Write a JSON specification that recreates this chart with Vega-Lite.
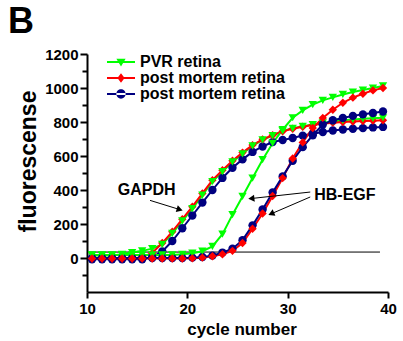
{
"$schema": "https://vega.github.io/schema/vega-lite/v6.json",
"width": 301, "height": 238,
"autosize": {"type": "none"},
"padding": {"left": 87, "top": 54, "right": 15, "bottom": 49},
"background": "white",
"title": {"text": "B", "anchor": "start", "frame": "group", "dx": -79, "dy": 22, "offset": 0, "baseline": "alphabetic", "font": "Liberation Sans", "fontSize": 36, "fontWeight": "bold", "color": "black"},
"config": {"view": {"stroke": null},
  "axis": {"domainColor": "black", "domainWidth": 2, "tickColor": "black", "tickWidth": 2, "grid": false, "labelFont": "Liberation Sans", "labelFontWeight": "bold", "labelFontSize": 15, "labelColor": "black", "labelOverlap": false, "titleFont": "Liberation Sans", "titleFontWeight": "bold", "titleColor": "black"}},
"resolve": {"axis": {"y": "independent"}},
"datasets": {
"threshold": [{"fromCycle": 10, "toCycle": 39.2, "level": 35}],
"labels": [{"text": "GAPDH", "cycle": 15.95, "fluorescence": 402}, {"text": "HB-EGF", "cycle": 35.7, "fluorescence": 372}],
"arrows": [{"arrow": "GAPDH", "fromCycle": 16.28, "fromValue": 339, "toCycle": 19.24, "toValue": 285},
  {"arrow": "HB1", "fromCycle": 32.25, "fromValue": 388, "toCycle": 26.38, "toValue": 350},
  {"arrow": "HB2", "fromCycle": 32.25, "fromValue": 359, "toCycle": 28.36, "toValue": 260}],
"curves": [
{"cycle":10.5,"fluorescence":15,"sample":"PVR","gene":"GAPDH"},{"cycle":11.5,"fluorescence":15,"sample":"PVR","gene":"GAPDH"},{"cycle":12.5,"fluorescence":15,"sample":"PVR","gene":"GAPDH"},{"cycle":13.5,"fluorescence":22,"sample":"PVR","gene":"GAPDH"},{"cycle":14.5,"fluorescence":32,"sample":"PVR","gene":"GAPDH"},{"cycle":15.5,"fluorescence":42,"sample":"PVR","gene":"GAPDH"},{"cycle":16.5,"fluorescence":55,"sample":"PVR","gene":"GAPDH"},{"cycle":17.5,"fluorescence":80,"sample":"PVR","gene":"GAPDH"},{"cycle":18.5,"fluorescence":145,"sample":"PVR","gene":"GAPDH"},{"cycle":19.5,"fluorescence":218,"sample":"PVR","gene":"GAPDH"},{"cycle":20.5,"fluorescence":290,"sample":"PVR","gene":"GAPDH"},{"cycle":21.5,"fluorescence":370,"sample":"PVR","gene":"GAPDH"},{"cycle":22.5,"fluorescence":450,"sample":"PVR","gene":"GAPDH"},{"cycle":23.5,"fluorescence":508,"sample":"PVR","gene":"GAPDH"},{"cycle":24.5,"fluorescence":565,"sample":"PVR","gene":"GAPDH"},{"cycle":25.5,"fluorescence":613,"sample":"PVR","gene":"GAPDH"},{"cycle":26.5,"fluorescence":660,"sample":"PVR","gene":"GAPDH"},{"cycle":27.5,"fluorescence":695,"sample":"PVR","gene":"GAPDH"},{"cycle":28.5,"fluorescence":720,"sample":"PVR","gene":"GAPDH"},{"cycle":29.5,"fluorescence":748,"sample":"PVR","gene":"GAPDH"},{"cycle":30.5,"fluorescence":763,"sample":"PVR","gene":"GAPDH"},{"cycle":31.5,"fluorescence":775,"sample":"PVR","gene":"GAPDH"},{"cycle":32.5,"fluorescence":785,"sample":"PVR","gene":"GAPDH"},{"cycle":33.5,"fluorescence":795,"sample":"PVR","gene":"GAPDH"},{"cycle":34.5,"fluorescence":802,"sample":"PVR","gene":"GAPDH"},{"cycle":35.5,"fluorescence":810,"sample":"PVR","gene":"GAPDH"},{"cycle":36.5,"fluorescence":815,"sample":"PVR","gene":"GAPDH"},{"cycle":37.5,"fluorescence":819,"sample":"PVR","gene":"GAPDH"},{"cycle":38.5,"fluorescence":822,"sample":"PVR","gene":"GAPDH"},{"cycle":39.5,"fluorescence":825,"sample":"PVR","gene":"GAPDH"},
{"cycle":10.5,"fluorescence":-3,"sample":"PM1","gene":"GAPDH"},{"cycle":11.5,"fluorescence":-3,"sample":"PM1","gene":"GAPDH"},{"cycle":12.5,"fluorescence":-3,"sample":"PM1","gene":"GAPDH"},{"cycle":13.5,"fluorescence":-3,"sample":"PM1","gene":"GAPDH"},{"cycle":14.5,"fluorescence":-3,"sample":"PM1","gene":"GAPDH"},{"cycle":15.5,"fluorescence":5,"sample":"PM1","gene":"GAPDH"},{"cycle":16.5,"fluorescence":30,"sample":"PM1","gene":"GAPDH"},{"cycle":17.5,"fluorescence":88,"sample":"PM1","gene":"GAPDH"},{"cycle":18.5,"fluorescence":155,"sample":"PM1","gene":"GAPDH"},{"cycle":19.5,"fluorescence":228,"sample":"PM1","gene":"GAPDH"},{"cycle":20.5,"fluorescence":302,"sample":"PM1","gene":"GAPDH"},{"cycle":21.5,"fluorescence":380,"sample":"PM1","gene":"GAPDH"},{"cycle":22.5,"fluorescence":458,"sample":"PM1","gene":"GAPDH"},{"cycle":23.5,"fluorescence":516,"sample":"PM1","gene":"GAPDH"},{"cycle":24.5,"fluorescence":572,"sample":"PM1","gene":"GAPDH"},{"cycle":25.5,"fluorescence":620,"sample":"PM1","gene":"GAPDH"},{"cycle":26.5,"fluorescence":664,"sample":"PM1","gene":"GAPDH"},{"cycle":27.5,"fluorescence":698,"sample":"PM1","gene":"GAPDH"},{"cycle":28.5,"fluorescence":722,"sample":"PM1","gene":"GAPDH"},{"cycle":29.5,"fluorescence":745,"sample":"PM1","gene":"GAPDH"},{"cycle":30.5,"fluorescence":760,"sample":"PM1","gene":"GAPDH"},{"cycle":31.5,"fluorescence":772,"sample":"PM1","gene":"GAPDH"},{"cycle":32.5,"fluorescence":782,"sample":"PM1","gene":"GAPDH"},{"cycle":33.5,"fluorescence":790,"sample":"PM1","gene":"GAPDH"},{"cycle":34.5,"fluorescence":796,"sample":"PM1","gene":"GAPDH"},{"cycle":35.5,"fluorescence":800,"sample":"PM1","gene":"GAPDH"},{"cycle":36.5,"fluorescence":803,"sample":"PM1","gene":"GAPDH"},{"cycle":37.5,"fluorescence":806,"sample":"PM1","gene":"GAPDH"},{"cycle":38.5,"fluorescence":808,"sample":"PM1","gene":"GAPDH"},{"cycle":39.5,"fluorescence":810,"sample":"PM1","gene":"GAPDH"},
{"cycle":10.5,"fluorescence":-8,"sample":"PM2","gene":"GAPDH"},{"cycle":11.5,"fluorescence":-8,"sample":"PM2","gene":"GAPDH"},{"cycle":12.5,"fluorescence":-8,"sample":"PM2","gene":"GAPDH"},{"cycle":13.5,"fluorescence":-8,"sample":"PM2","gene":"GAPDH"},{"cycle":14.5,"fluorescence":-8,"sample":"PM2","gene":"GAPDH"},{"cycle":15.5,"fluorescence":-8,"sample":"PM2","gene":"GAPDH"},{"cycle":16.5,"fluorescence":5,"sample":"PM2","gene":"GAPDH"},{"cycle":17.5,"fluorescence":39,"sample":"PM2","gene":"GAPDH"},{"cycle":18.5,"fluorescence":100,"sample":"PM2","gene":"GAPDH"},{"cycle":19.5,"fluorescence":175,"sample":"PM2","gene":"GAPDH"},{"cycle":20.5,"fluorescence":250,"sample":"PM2","gene":"GAPDH"},{"cycle":21.5,"fluorescence":326,"sample":"PM2","gene":"GAPDH"},{"cycle":22.5,"fluorescence":400,"sample":"PM2","gene":"GAPDH"},{"cycle":23.5,"fluorescence":471,"sample":"PM2","gene":"GAPDH"},{"cycle":24.5,"fluorescence":531,"sample":"PM2","gene":"GAPDH"},{"cycle":25.5,"fluorescence":580,"sample":"PM2","gene":"GAPDH"},{"cycle":26.5,"fluorescence":624,"sample":"PM2","gene":"GAPDH"},{"cycle":27.5,"fluorescence":656,"sample":"PM2","gene":"GAPDH"},{"cycle":28.5,"fluorescence":682,"sample":"PM2","gene":"GAPDH"},{"cycle":29.5,"fluorescence":694,"sample":"PM2","gene":"GAPDH"},{"cycle":30.5,"fluorescence":706,"sample":"PM2","gene":"GAPDH"},{"cycle":31.5,"fluorescence":720,"sample":"PM2","gene":"GAPDH"},{"cycle":32.5,"fluorescence":731,"sample":"PM2","gene":"GAPDH"},{"cycle":33.5,"fluorescence":741,"sample":"PM2","gene":"GAPDH"},{"cycle":34.5,"fluorescence":750,"sample":"PM2","gene":"GAPDH"},{"cycle":35.5,"fluorescence":756,"sample":"PM2","gene":"GAPDH"},{"cycle":36.5,"fluorescence":760,"sample":"PM2","gene":"GAPDH"},{"cycle":37.5,"fluorescence":764,"sample":"PM2","gene":"GAPDH"},{"cycle":38.5,"fluorescence":768,"sample":"PM2","gene":"GAPDH"},{"cycle":39.5,"fluorescence":771,"sample":"PM2","gene":"GAPDH"},
{"cycle":10.5,"fluorescence":18,"sample":"PVR","gene":"HB-EGF"},{"cycle":11.5,"fluorescence":18,"sample":"PVR","gene":"HB-EGF"},{"cycle":12.5,"fluorescence":18,"sample":"PVR","gene":"HB-EGF"},{"cycle":13.5,"fluorescence":18,"sample":"PVR","gene":"HB-EGF"},{"cycle":14.5,"fluorescence":18,"sample":"PVR","gene":"HB-EGF"},{"cycle":15.5,"fluorescence":18,"sample":"PVR","gene":"HB-EGF"},{"cycle":16.5,"fluorescence":18,"sample":"PVR","gene":"HB-EGF"},{"cycle":17.5,"fluorescence":18,"sample":"PVR","gene":"HB-EGF"},{"cycle":18.5,"fluorescence":18,"sample":"PVR","gene":"HB-EGF"},{"cycle":19.5,"fluorescence":22,"sample":"PVR","gene":"HB-EGF"},{"cycle":20.5,"fluorescence":28,"sample":"PVR","gene":"HB-EGF"},{"cycle":21.5,"fluorescence":40,"sample":"PVR","gene":"HB-EGF"},{"cycle":22.5,"fluorescence":68,"sample":"PVR","gene":"HB-EGF"},{"cycle":23.5,"fluorescence":140,"sample":"PVR","gene":"HB-EGF"},{"cycle":24.5,"fluorescence":255,"sample":"PVR","gene":"HB-EGF"},{"cycle":25.5,"fluorescence":362,"sample":"PVR","gene":"HB-EGF"},{"cycle":26.5,"fluorescence":470,"sample":"PVR","gene":"HB-EGF"},{"cycle":27.5,"fluorescence":578,"sample":"PVR","gene":"HB-EGF"},{"cycle":28.5,"fluorescence":675,"sample":"PVR","gene":"HB-EGF"},{"cycle":29.5,"fluorescence":755,"sample":"PVR","gene":"HB-EGF"},{"cycle":30.5,"fluorescence":825,"sample":"PVR","gene":"HB-EGF"},{"cycle":31.5,"fluorescence":868,"sample":"PVR","gene":"HB-EGF"},{"cycle":32.5,"fluorescence":902,"sample":"PVR","gene":"HB-EGF"},{"cycle":33.5,"fluorescence":927,"sample":"PVR","gene":"HB-EGF"},{"cycle":34.5,"fluorescence":945,"sample":"PVR","gene":"HB-EGF"},{"cycle":35.5,"fluorescence":962,"sample":"PVR","gene":"HB-EGF"},{"cycle":36.5,"fluorescence":976,"sample":"PVR","gene":"HB-EGF"},{"cycle":37.5,"fluorescence":988,"sample":"PVR","gene":"HB-EGF"},{"cycle":38.5,"fluorescence":1000,"sample":"PVR","gene":"HB-EGF"},{"cycle":39.5,"fluorescence":1012,"sample":"PVR","gene":"HB-EGF"},
{"cycle":10.5,"fluorescence":-3,"sample":"PM1","gene":"HB-EGF"},{"cycle":11.5,"fluorescence":-3,"sample":"PM1","gene":"HB-EGF"},{"cycle":12.5,"fluorescence":-3,"sample":"PM1","gene":"HB-EGF"},{"cycle":13.5,"fluorescence":-3,"sample":"PM1","gene":"HB-EGF"},{"cycle":14.5,"fluorescence":-3,"sample":"PM1","gene":"HB-EGF"},{"cycle":15.5,"fluorescence":-3,"sample":"PM1","gene":"HB-EGF"},{"cycle":16.5,"fluorescence":-3,"sample":"PM1","gene":"HB-EGF"},{"cycle":17.5,"fluorescence":-3,"sample":"PM1","gene":"HB-EGF"},{"cycle":18.5,"fluorescence":-3,"sample":"PM1","gene":"HB-EGF"},{"cycle":19.5,"fluorescence":-3,"sample":"PM1","gene":"HB-EGF"},{"cycle":20.5,"fluorescence":-2,"sample":"PM1","gene":"HB-EGF"},{"cycle":21.5,"fluorescence":2,"sample":"PM1","gene":"HB-EGF"},{"cycle":22.5,"fluorescence":10,"sample":"PM1","gene":"HB-EGF"},{"cycle":23.5,"fluorescence":22,"sample":"PM1","gene":"HB-EGF"},{"cycle":24.5,"fluorescence":42,"sample":"PM1","gene":"HB-EGF"},{"cycle":25.5,"fluorescence":88,"sample":"PM1","gene":"HB-EGF"},{"cycle":26.5,"fluorescence":172,"sample":"PM1","gene":"HB-EGF"},{"cycle":27.5,"fluorescence":262,"sample":"PM1","gene":"HB-EGF"},{"cycle":28.5,"fluorescence":365,"sample":"PM1","gene":"HB-EGF"},{"cycle":29.5,"fluorescence":470,"sample":"PM1","gene":"HB-EGF"},{"cycle":30.5,"fluorescence":585,"sample":"PM1","gene":"HB-EGF"},{"cycle":31.5,"fluorescence":680,"sample":"PM1","gene":"HB-EGF"},{"cycle":32.5,"fluorescence":765,"sample":"PM1","gene":"HB-EGF"},{"cycle":33.5,"fluorescence":824,"sample":"PM1","gene":"HB-EGF"},{"cycle":34.5,"fluorescence":872,"sample":"PM1","gene":"HB-EGF"},{"cycle":35.5,"fluorescence":913,"sample":"PM1","gene":"HB-EGF"},{"cycle":36.5,"fluorescence":943,"sample":"PM1","gene":"HB-EGF"},{"cycle":37.5,"fluorescence":966,"sample":"PM1","gene":"HB-EGF"},{"cycle":38.5,"fluorescence":986,"sample":"PM1","gene":"HB-EGF"},{"cycle":39.5,"fluorescence":1000,"sample":"PM1","gene":"HB-EGF"},
{"cycle":10.5,"fluorescence":0,"sample":"PM2","gene":"HB-EGF"},{"cycle":11.5,"fluorescence":0,"sample":"PM2","gene":"HB-EGF"},{"cycle":12.5,"fluorescence":0,"sample":"PM2","gene":"HB-EGF"},{"cycle":13.5,"fluorescence":0,"sample":"PM2","gene":"HB-EGF"},{"cycle":14.5,"fluorescence":0,"sample":"PM2","gene":"HB-EGF"},{"cycle":15.5,"fluorescence":0,"sample":"PM2","gene":"HB-EGF"},{"cycle":16.5,"fluorescence":0,"sample":"PM2","gene":"HB-EGF"},{"cycle":17.5,"fluorescence":0,"sample":"PM2","gene":"HB-EGF"},{"cycle":18.5,"fluorescence":0,"sample":"PM2","gene":"HB-EGF"},{"cycle":19.5,"fluorescence":0,"sample":"PM2","gene":"HB-EGF"},{"cycle":20.5,"fluorescence":2,"sample":"PM2","gene":"HB-EGF"},{"cycle":21.5,"fluorescence":6,"sample":"PM2","gene":"HB-EGF"},{"cycle":22.5,"fluorescence":14,"sample":"PM2","gene":"HB-EGF"},{"cycle":23.5,"fluorescence":32,"sample":"PM2","gene":"HB-EGF"},{"cycle":24.5,"fluorescence":55,"sample":"PM2","gene":"HB-EGF"},{"cycle":25.5,"fluorescence":105,"sample":"PM2","gene":"HB-EGF"},{"cycle":26.5,"fluorescence":192,"sample":"PM2","gene":"HB-EGF"},{"cycle":27.5,"fluorescence":285,"sample":"PM2","gene":"HB-EGF"},{"cycle":28.5,"fluorescence":385,"sample":"PM2","gene":"HB-EGF"},{"cycle":29.5,"fluorescence":480,"sample":"PM2","gene":"HB-EGF"},{"cycle":30.5,"fluorescence":572,"sample":"PM2","gene":"HB-EGF"},{"cycle":31.5,"fluorescence":652,"sample":"PM2","gene":"HB-EGF"},{"cycle":32.5,"fluorescence":722,"sample":"PM2","gene":"HB-EGF"},{"cycle":33.5,"fluorescence":785,"sample":"PM2","gene":"HB-EGF"},{"cycle":34.5,"fluorescence":810,"sample":"PM2","gene":"HB-EGF"},{"cycle":35.5,"fluorescence":824,"sample":"PM2","gene":"HB-EGF"},{"cycle":36.5,"fluorescence":836,"sample":"PM2","gene":"HB-EGF"},{"cycle":37.5,"fluorescence":845,"sample":"PM2","gene":"HB-EGF"},{"cycle":38.5,"fluorescence":853,"sample":"PM2","gene":"HB-EGF"},{"cycle":39.5,"fluorescence":862,"sample":"PM2","gene":"HB-EGF"}
]},
"layer": [
{"data": {"name": "threshold"}, "mark": {"type": "rule", "color": "black", "strokeWidth": 1},
 "encoding": {
  "x": {"field": "fromCycle", "type": "quantitative", "scale": {"domain": [10, 40], "nice": false, "zero": false},
    "axis": {"title": "cycle number", "values": [10, 20, 30, 40], "format": "d", "tickSize": 6, "labelPadding": 3, "labelFlush": false, "labelOverlap": false, "titleFontSize": 17, "titleX": 154.5, "titleY": 42, "titleAlign": "center", "titleBaseline": "alphabetic"}},
  "x2": {"field": "toCycle"},
  "y": {"field": "level", "type": "quantitative", "scale": {"domain": [-200, 1200], "nice": false, "zero": false},
    "axis": {"orient": "left", "title": "fluorescense", "values": [0, 200, 400, 600, 800, 1000, 1200], "format": "d", "labelOverlap": false, "tickSize": 7, "labelPadding": 2, "labelFlush": false, "titleFontSize": 23, "titleX": -52, "titleY": 107, "titleAlign": "center", "titleBaseline": "alphabetic", "titleAngle": -90}}
 }},
{"data": {"name": "curves"}, "mark": {"type": "line", "strokeWidth": 2},
 "encoding": {"x": {"field": "cycle", "type": "quantitative"}, "y": {"field": "fluorescence", "type": "quantitative", "axis": null}, "stroke": {"field": "sample", "type": "nominal", "scale": {"domain": ["PM2", "PVR", "PM1"], "range": ["#000080", "#00ff00", "#ff0000"]}, "legend": null}, "detail": {"field": "gene"}}},
{"data": {"name": "curves"}, "transform": [{"filter": "datum.sample == 'PM2' && datum.gene == 'GAPDH'"}], "mark": {"type": "point", "shape": "circle", "filled": true, "opacity": 1, "size": 70},
 "encoding": {"x": {"field": "cycle", "type": "quantitative"}, "y": {"field": "fluorescence", "type": "quantitative", "axis": null}, "fill": {"field": "sample", "type": "nominal", "scale": {"domain": ["PM2", "PVR", "PM1"], "range": ["#000080", "#00ff00", "#ff0000"]}, "legend": null}}},
{"data": {"name": "curves"}, "transform": [{"filter": "datum.sample == 'PM1' && datum.gene == 'GAPDH'"}], "mark": {"type": "point", "shape": "diamond", "filled": true, "opacity": 1, "size": 70},
 "encoding": {"x": {"field": "cycle", "type": "quantitative"}, "y": {"field": "fluorescence", "type": "quantitative", "axis": null}, "fill": {"field": "sample", "type": "nominal", "legend": null}}},
{"data": {"name": "curves"}, "transform": [{"filter": "datum.sample == 'PVR' && datum.gene == 'GAPDH'"}], "mark": {"type": "point", "shape": "triangle-down", "filled": true, "opacity": 1, "size": 70},
 "encoding": {"x": {"field": "cycle", "type": "quantitative"}, "y": {"field": "fluorescence", "type": "quantitative", "axis": null}, "fill": {"field": "sample", "type": "nominal", "legend": null}}},
{"data": {"name": "curves"}, "transform": [{"filter": "datum.sample == 'PM2' && datum.gene == 'HB-EGF'"}], "mark": {"type": "point", "shape": "circle", "filled": true, "opacity": 1, "size": 70},
 "encoding": {"x": {"field": "cycle", "type": "quantitative"}, "y": {"field": "fluorescence", "type": "quantitative", "axis": null}, "fill": {"field": "sample", "type": "nominal", "legend": null}}},
{"data": {"name": "curves"}, "transform": [{"filter": "datum.sample == 'PVR' && datum.gene == 'HB-EGF'"}], "mark": {"type": "point", "shape": "triangle-down", "filled": true, "opacity": 1, "size": 70},
 "encoding": {"x": {"field": "cycle", "type": "quantitative"}, "y": {"field": "fluorescence", "type": "quantitative", "axis": null}, "fill": {"field": "sample", "type": "nominal", "legend": null}}},
{"data": {"name": "curves"}, "transform": [{"filter": "datum.sample == 'PM1' && datum.gene == 'HB-EGF'"}], "mark": {"type": "point", "shape": "diamond", "filled": true, "opacity": 1, "size": 70},
 "encoding": {"x": {"field": "cycle", "type": "quantitative"}, "y": {"field": "fluorescence", "type": "quantitative", "axis": null}, "fill": {"field": "sample", "type": "nominal", "legend": null}}},
{"data": {"name": "curves"}, "mark": {"type": "point", "filled": true, "opacity": 0},
 "encoding": {"x": {"field": "cycle", "type": "quantitative"},
  "y": {"field": "fluorescence", "type": "quantitative", "axis": {"orient": "left", "values": [-100, 100, 300, 500, 700, 900, 1100], "labels": false, "domain": false, "title": null, "tickSize": 5, "offset": 0}},
  "color": {"field": "sample", "type": "nominal", "scale": {"domain": ["PVR", "PM1", "PM2"], "range": ["#00ff00", "#ff0000", "#000080"]}, "legend": {"orient": "none", "legendX": 26, "legendY": 0, "title": null, "padding": 0, "symbolOffset": 0, "labelOffset": 11, "rowPadding": 0, "symbolSize": 256, "symbolOpacity": 1, "symbolStrokeWidth": 0, "labelFont": "Liberation Sans", "labelFontWeight": "bold", "labelFontSize": 16, "labelColor": "black", "labelExpr": "datum.value == 'PVR' ? 'PVR retina' : 'post mortem retina'"}},
  "shape": {"field": "sample", "type": "nominal", "scale": {"domain": ["PVR", "PM1", "PM2"], "range": ["M-1.75,-0.125H1.75V0.125H-1.75Z M-0.58,-0.42L0.58,-0.42L0,0.55Z", "M-1.75,-0.125H1.75V0.125H-1.75Z M0,-0.6L0.45,0L0,0.6L-0.45,0Z", "M-1.75,-0.125H1.75V0.125H-1.75Z M-0.58,0A0.58,0.58 0 1,0 0.58,0A0.58,0.58 0 1,0 -0.58,0Z"]},
    "legend": {"orient": "none", "legendX": 26, "legendY": 0, "title": null, "padding": 0, "symbolOffset": 0, "labelOffset": 11, "rowPadding": 0, "symbolSize": 256, "symbolOpacity": 1, "symbolStrokeWidth": 0, "labelFont": "Liberation Sans", "labelFontWeight": "bold", "labelFontSize": 16, "labelColor": "black", "labelExpr": "datum.value == 'PVR' ? 'PVR retina' : 'post mortem retina'"}}}},
{"data": {"name": "labels"}, "mark": {"type": "text", "font": "Liberation Sans", "fontWeight": "bold", "fontSize": 16, "color": "black", "align": "center", "baseline": "middle"},
 "encoding": {"x": {"field": "cycle", "type": "quantitative"}, "y": {"field": "fluorescence", "type": "quantitative", "axis": null}, "text": {"field": "text"}}},
{"data": {"name": "arrows"}, "mark": {"type": "rule", "color": "black", "strokeWidth": 1},
 "encoding": {"x": {"field": "fromCycle", "type": "quantitative"}, "y": {"field": "fromValue", "type": "quantitative", "axis": null}, "x2": {"field": "toCycle"}, "y2": {"field": "toValue"}}},
{"data": {"name": "arrows"}, "transform": [{"filter": "datum.arrow == 'GAPDH'"}], "mark": {"type": "point", "shape": "triangle-right", "angle": 17, "filled": true, "color": "black", "opacity": 1, "size": 50},
 "encoding": {"x": {"field": "toCycle", "type": "quantitative"}, "y": {"field": "toValue", "type": "quantitative", "axis": null}}},
{"data": {"name": "arrows"}, "transform": [{"filter": "datum.arrow == 'HB1'"}], "mark": {"type": "point", "shape": "triangle-left", "angle": -6, "filled": true, "color": "black", "opacity": 1, "size": 50},
 "encoding": {"x": {"field": "toCycle", "type": "quantitative"}, "y": {"field": "toValue", "type": "quantitative", "axis": null}}},
{"data": {"name": "arrows"}, "transform": [{"filter": "datum.arrow == 'HB2'"}], "mark": {"type": "point", "shape": "triangle-left", "angle": -23, "filled": true, "color": "black", "opacity": 1, "size": 50},
 "encoding": {"x": {"field": "toCycle", "type": "quantitative"}, "y": {"field": "toValue", "type": "quantitative", "axis": null}}}
]
}
